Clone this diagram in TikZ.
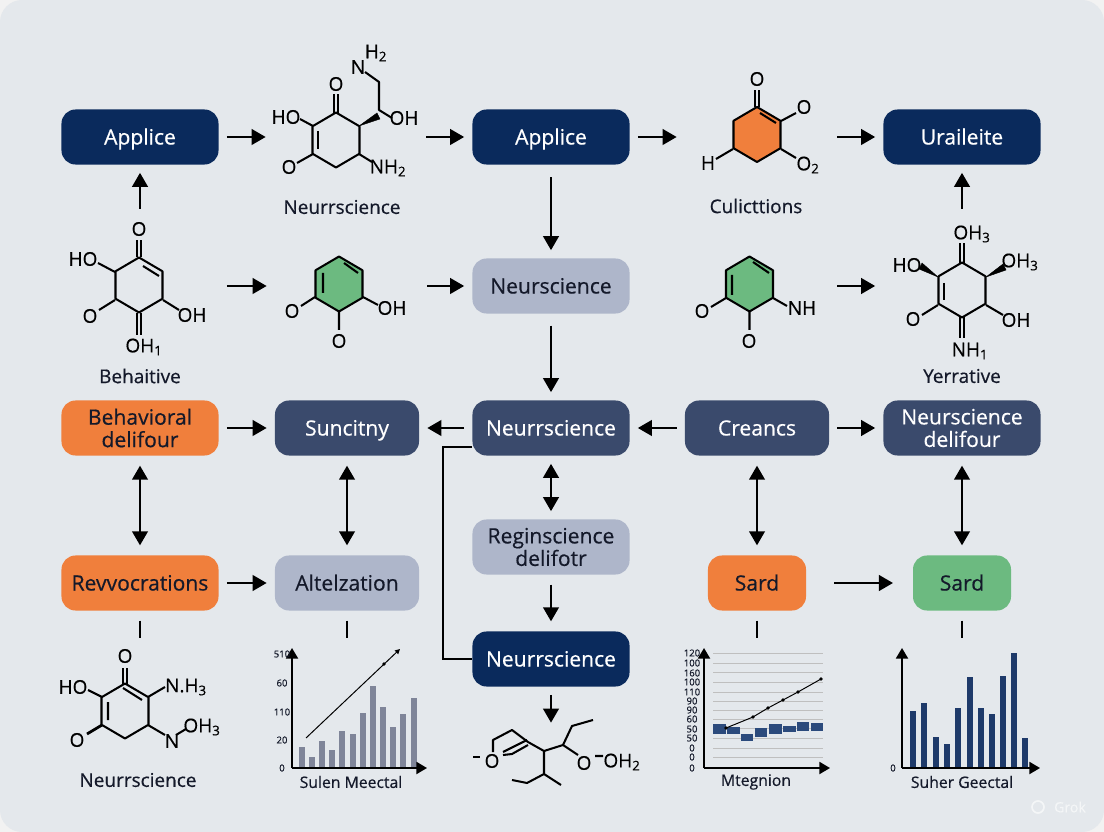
\documentclass[tikz,border=0pt]{standalone}
\usepackage{fontspec}
\setmainfont{Open Sans}[FakeBold=0.45]
\newfontfamily\medfont{Open Sans}[AutoFakeBold=0.5]
\usetikzlibrary{arrows.meta,calc}

\definecolor{pagebg}{HTML}{E4E8EC}
\definecolor{navydeep}{HTML}{0A2A5C}
\definecolor{navymid}{HTML}{3A4A6C}
\definecolor{slatelt}{HTML}{AEB6CA}
\definecolor{orangebox}{HTML}{F07F3C}
\definecolor{greenbox}{HTML}{6CBA80}
\definecolor{inkdark}{HTML}{14192A}
\definecolor{barslate}{HTML}{7F8599}
\definecolor{barnavy}{HTML}{1E3A6A}
\definecolor{blockblue}{HTML}{2B4A7C}

\tikzset{
  flowbox/.style={rounded corners=0.35cm, minimum height=1.375cm, align=center, inner sep=0pt,
    font=\medfont\bfseries\fontsize{15}{17}\selectfont},
  oneline/.style={text height=10.7pt, text depth=0pt},
  wide/.style={minimum width=3.925cm},
  mid/.style={minimum width=3.6cm},
  narrow/.style={minimum width=2.45cm},
  navybox/.style={flowbox, fill=navydeep, text=white},
  midbox/.style={flowbox, fill=navymid, text=white},
  lightbox/.style={flowbox, fill=slatelt, text=inkdark},
  orbox/.style={flowbox, fill=orangebox, text=inkdark},
  grbox/.style={flowbox, fill=greenbox, text=inkdark},
  molslot/.style={inner sep=0pt, minimum width=3.6cm, minimum height=3.45cm},
  arw/.style={-{Triangle[length=10pt,width=11pt]}, line width=1.9pt, draw=black, shorten <=5.7pt, shorten >=5.7pt},
  dbl/.style={{Triangle[length=10pt,width=11pt]}-{Triangle[length=10pt,width=11pt]}, line width=1.9pt, draw=black, shorten <=7pt, shorten >=7pt},
  stub/.style={line width=1.9pt, draw=black, shorten <=7pt},
  bond/.style={line width=1.45pt, draw=black, line join=round},
  wedge/.style={fill=black, draw=black, line width=0.3pt},
  atom/.style={inner sep=0pt, font=\medfont\bfseries\fontsize{13.5}{15}\selectfont, text=black},
  caption/.style={inner sep=0pt, font=\medfont\bfseries\fontsize{13.5}{15}\selectfont, text=inkdark},
  smallcap/.style={caption, font=\medfont\bfseries\fontsize{11.2}{13}\selectfont},
  tick/.style={inner sep=0pt, font=\fontsize{6.8}{7}\selectfont, text=inkdark},
  axis/.style={-{Triangle[length=7.5pt,width=8.5pt]}, line width=1.4pt, draw=black},
}

\newcommand{\ringat}[3]{\draw[bond, fill=#3] (#1,#2-27.5) -- (#1+23.5,#2-13.7) -- (#1+23.5,#2+13.7) -- (#1,#2+27.5) -- (#1-23.5,#2+13.7) -- (#1-23.5,#2-13.7) -- cycle;}
\newcommand{\dblbond}[4]{\draw[bond] (#1-2.4,#2) -- (#3-2.4,#4) (#1+2.4,#2) -- (#3+2.4,#4);}

\begin{document}
\begin{tikzpicture}[x=0.025cm, y=-0.025cm]
  \useasboundingbox (0,0) rectangle (1104,832);
  \fill[black!5] (0,0) rectangle (1104,832);
  \fill[pagebg, rounded corners=0.55cm] (0,0) rectangle (1104,832);

  % flow boxes
  \node[navybox, wide, oneline] (applA) at (140,137) {Applice};
  \node[navybox, wide, oneline] (applB) at (551,137) {Applice};
  \node[navybox, wide, oneline] (urale) at (962,137) {Uraileite};
  \node[lightbox, wide, oneline] (neurLight) at (551,286) {Neurscience};
  \node[orbox, wide] (behav) at (140,428) {Behavioral\\[-1pt]delifour};
  \node[midbox, mid, oneline] (sunci) at (347,428) {Suncitny};
  \node[midbox, wide, oneline] (neurMid) at (551,428) {Neurrscience};
  \node[midbox, mid, oneline] (crean) at (757,428) {Creancs};
  \node[midbox, wide] (neurDeli) at (962,428) {Neurscience\\[-1pt]delifour};
  \node[orbox, wide, oneline] (revoc) at (140,583) {Revvocrations};
  \node[lightbox, mid, oneline] (altel) at (347,583) {Altelzation};
  \node[lightbox, wide] (regin) at (551,547) {Reginscience\\[-1pt]delifotr};
  \node[navybox, wide, oneline] (neurLow) at (551,659) {Neurrscience};
  \node[orbox, narrow, oneline] (sardA) at (757,583) {Sard};
  \node[grbox, narrow, oneline] (sardB) at (962,583) {Sard};

  % empty slots that the molecules sit in
  \node[molslot] (slotTopL) at (346,137) {};
  \node[molslot] (slotTopR) at (757,137) {};
  \node[molslot, minimum width=3.925cm] (slotBeha) at (140,286) {};
  \node[molslot] (slotGrnL) at (347,286) {};
  \node[molslot] (slotGrnR) at (757,286) {};
  \node[molslot, minimum width=3.925cm] (slotYerr) at (962,286) {};
  \node[molslot, minimum height=0.1cm] (slotChain) at (551,733) {};
  \coordinate (endA) at (140,638);
  \coordinate (endB) at (347,638);
  \coordinate (endC) at (757,638);
  \coordinate (endD) at (962,638);
  \coordinate (brk) at (443,447);

  % connectors
  \draw[arw] (applA) -- (slotTopL);
  \draw[arw] (slotTopL) -- (applB);
  \draw[arw] (applB) -- (slotTopR);
  \draw[arw] (slotTopR) -- (urale);
  \draw[arw] (slotBeha) -- (applA);
  \draw[arw] (slotYerr) -- (urale);
  \draw[arw, shorten <=9pt] (applB) -- (neurLight);
  \draw[arw] (slotBeha) -- (slotGrnL);
  \draw[arw] (slotGrnL) -- (neurLight);
  \draw[arw] (slotGrnR) -- (slotYerr);
  \draw[arw, shorten <=8.5pt] (neurLight) -- (neurMid);
  \draw[arw] (behav) -- (sunci);
  \draw[arw] (neurMid) -- (sunci);
  \draw[arw] (crean) -- (neurMid);
  \draw[arw] (crean) -- (neurDeli);
  \draw[arw] (revoc) -- (altel);
  \draw[arw, shorten <=20pt, shorten >=14pt] (sardA) -- (sardB);
  \draw[dbl] (behav) -- (revoc);
  \draw[dbl] (sunci) -- (altel);
  \draw[dbl, shorten <=5.7pt, shorten >=5.7pt] (neurMid) -- (regin);
  \draw[dbl] (crean) -- (sardA);
  \draw[dbl] (neurDeli) -- (sardB);
  \draw[arw, shorten <=7pt, shorten >=7pt] (regin) -- (neurLow);
  \draw[arw] (neurLow) -- (slotChain);
  \draw[stub] (revoc) -- (endA);
  \draw[stub] (altel) -- (endB);
  \draw[stub] (sardA) -- (endC);
  \draw[stub] (sardB) -- (endD);
  \draw[line width=1.3pt] (neurMid.west |- brk) -- (brk) |- (neurLow.west);

  % top left molecule
  \ringat{336}{140}{none}
  \dblbond{336}{113}{336}{94}
  \draw[bond] (318,131) -- (318,149);
  \draw[bond] (313,126) -- (300,119) (313,154) -- (297,163) (359,154) -- (372,162);
  \draw[wedge] (359,126) -- (377,113) -- (380,119) -- cycle;
  \draw[bond] (392,118) -- (379,110) -- (379,82) -- (365,72);
  \node[atom] (topO) at (336,84) {O};
  \node[atom] (topHO) at (286,117) {HO};
  \node[atom] (topOb) at (289,167) {O};
  \node[atom] (topNH) at (388,168) {NH\textsubscript{2}};
  \node[atom] (topN) at (358,67) {N};
  \node[atom] (topHH) at (376,53) {H\textsubscript{2}};
  \node[atom] (topOH) at (404,118) {OH};
  \node[caption] (capNeurA) at (342,207) {Neurrscience};

  % orange molecule
  \ringat{757}{134.5}{orangebox}
  \dblbond{757}{107}{757}{90}
  \draw[bond] (760,113) -- (776,123);
  \draw[bond] (781,121) -- (796,113) (781,149) -- (796,158) (733,149) -- (716,159);
  \node[atom] (orgO) at (757,79) {O};
  \node[atom] (orgOb) at (804,107) {O};
  \node[atom] (orgOc) at (808,165) {O\textsubscript{2}};
  \node[atom] (orgH) at (708,163) {H};
  \node[caption] (capCuli) at (756,206) {Culicttions};

  % left molecule of row two
  \ringat{139}{285}{none}
  \dblbond{139}{257}{139}{240}
  \dblbond{139}{313}{139}{335}
  \draw[bond] (143,266) -- (159,276);
  \draw[bond] (115,272) -- (98,263) (115,300) -- (99,310) (163,300) -- (179,310);
  \node[atom] (behO) at (139,229) {O};
  \node[atom] (behHO) at (83,259) {HO};
  \node[atom] (behOb) at (90,316) {O};
  \node[atom] (behOH) at (192,315) {OH};
  \node[atom] (behOHb) at (144,347) {OH\textsubscript{1}};
  \node[caption] (capBeha) at (140,376) {Behaitive};

  % green molecules
  \ringat{339}{284}{greenbox}
  \draw[bond] (323,273) -- (323,293) (344,263) -- (358,273);
  \draw[bond] (315,297) -- (301,306) (339,311) -- (339,330) (363,297) -- (378,305);
  \node[atom] (grnO) at (292,311) {O};
  \node[atom] (grnOb) at (339,341) {O};
  \node[atom] (grnOH) at (392,308) {OH};
  \ringat{749.5}{284}{greenbox}
  \draw[bond] (732,275) -- (732,295) (753,262) -- (769,273);
  \draw[bond] (726,298) -- (711,307) (749.5,312) -- (749.5,330) (773,298) -- (787,306);
  \node[atom] (grrO) at (702,311) {O};
  \node[atom] (grrOb) at (749,341) {O};
  \node[atom] (grrNH) at (802,308) {NH};

  % right molecule of row two
  \ringat{962}{290}{none}
  \dblbond{962}{263}{962}{243}
  \dblbond{962}{317}{962}{338}
  \draw[bond] (944,283) -- (944,300);
  \draw[bond] (938,305) -- (922,315) (986,305) -- (1003,315);
  \draw[wedge] (938,277) -- (922,263) -- (919,269) -- cycle;
  \draw[wedge] (986,277) -- (1003,264) -- (1006,270) -- cycle;
  \node[atom] (yerOH) at (972,234) {OH\textsubscript{3}};
  \node[atom] (yerHO) at (907,265) {HO};
  \node[atom] (yerOHr) at (1020,262) {OH\textsubscript{3}};
  \node[atom] (yerO) at (913,319) {O};
  \node[atom] (yerOHb) at (1016,320) {OH};
  \node[atom] (yerNH) at (970,351) {NH\textsubscript{1}};
  \node[caption] (capYerr) at (962,376) {Yerrative};

  % bottom left molecule
  \ringat{125}{711}{none}
  \dblbond{125}{684}{125}{668}
  \draw[bond] (108,702) -- (108,720) (123,688) -- (142,700);
  \draw[bond] (102,697) -- (88,690) (148,697) -- (165,687) (148,725) -- (165,735) (176,735) -- (186,729);
  \draw[bond, line width=2pt] (102,725) -- (87,734);
  \node[atom] (lowO) at (125,656) {O};
  \node[atom] (lowHO) at (73,687) {HO};
  \node[atom] (lowOb) at (77,740) {O};
  \node[atom] (lowN) at (186,687) {N.H\textsubscript{3}};
  \node[atom] (lowNb) at (172,741) {N};
  \node[atom] (lowOH) at (202,727) {OH\textsubscript{3}};
  \node[caption] (capNeurB) at (138,780) {Neurrscience};

  % chain molecule
  \draw[bond] (473,757) -- (480,757);
  \draw[bond] (493,752) -- (493,740) -- (512,730) -- (528,742) -- (544,751) -- (563,745) -- (572,726) -- (593,720);
  \draw[bond] (503,752) -- (527,740) (503,755) -- (512,754) -- (528,745);
  \draw[bond] (544,751) -- (544,774) -- (527,783) -- (512,780) (544,774) -- (561,785) (563,745) -- (578,755) (595,756) -- (603,756);
  \node[atom] (chnO) at (492,761) {O};
  \node[atom] (chnOb) at (584,763) {O};
  \node[atom] (chnOH) at (622,762) {OH\textsubscript{2}};

  % slate bar chart
  \foreach \xb/\yb in {302/747,312/757,322/741,332/750,342/731,353/734,363/713,373/686,383/707,393/727,403/714,414/698}
    \fill[barslate] (\xb-2.7,\yb) rectangle (\xb+2.7,768);
  \draw[axis] (292,768) -- (292,648);
  \draw[axis] (292,768) -- (427,768);
  \draw[line width=0.7pt, -{Triangle[length=3.5pt,width=3.5pt]}] (306,738) -- (400,649);
  \fill (384,664) circle (1.8);
  \foreach \yt/\lbl in {654/510,683/60,712/110,740/20,768/0}
    \node[tick] (tk\lbl) at (282,\yt) {\lbl};
  \node[smallcap] (capSulen) at (351,782) {Sulen Meectal};

  % chart with blocks and rising line
  \foreach \yg in {653,663,672,682,692,701,710,719,728,738,748,757}
    \draw[black!25, line width=0.4pt] (713,\yg) -- (823,\yg);
  \foreach \xa/\ya/\xc/\yc in {713/724/726/734,727/727/740/734,741/734/753/741,755/728/767/737,769/724/782/734,783/726/796/732,797/722/809/731,811/723/823/731}
    \fill[blockblue] (\xa,\ya) rectangle (\xc,\yc);
  \draw[axis] (704,768) -- (704,648);
  \draw[axis] (704,768) -- (830,768);
  \draw[line width=0.7pt] (726,728) -- (753,717) -- (768,708) -- (783,700) -- (798,692) -- (821,679);
  \foreach \xd/\yd in {726/728,753/717,768/708,783/700,798/692,821/679}
    \fill (\xd,\yd) circle (1.8);
  \foreach \yt/\lbl [count=\n] in {653/120,663/100,673/160,682/100,692/110,701/90,710/90,719/60,729/50,738/50,748/0,757/0,768/0}
    \node[tick] (tkm\n) at (692,\yt) {\lbl};
  \node[smallcap] (capMteg) at (756,782) {Mtegnion};

  % navy bar chart
  \foreach \xb/\yb in {913/711,924/703,936/737,947/744,958/708,970/677,981/708,992/714,1003/676,1014/653,1025/738}
    \fill[barnavy] (\xb-2.7,\yb) rectangle (\xb+2.7,768);
  \draw[axis] (902,768) -- (902,648);
  \draw[axis] (902,768) -- (1040,768);
  \node[tick] (tkZero) at (893,768) {0};
  \node[smallcap] (capSuher) at (962,782) {Suher Geectal};

  % watermark
  \draw[white!60!pagebg, line width=1.2pt] (1038,807) circle (6);
  \node[inner sep=0pt, text=white!60!pagebg, font=\fontsize{10}{12}\selectfont] (grokMark) at (1070,807) {Grok};
\end{tikzpicture}
\end{document}
